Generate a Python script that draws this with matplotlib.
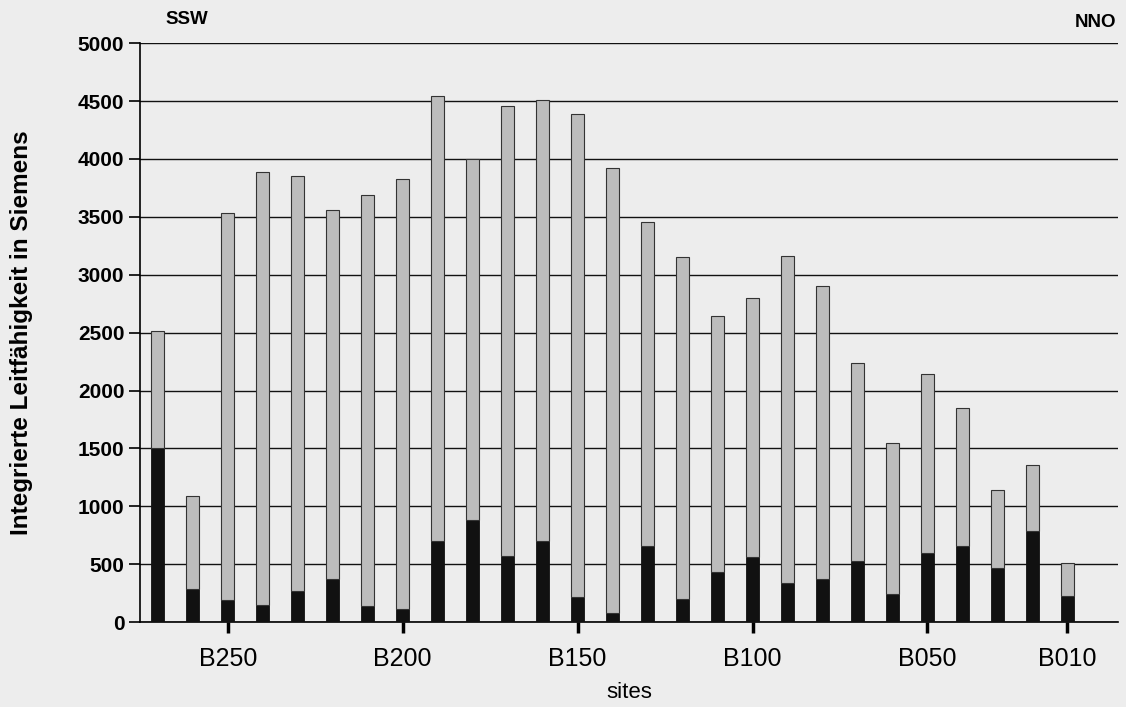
import numpy as np
import matplotlib
matplotlib.use("Agg")
import matplotlib.pyplot as plt

plt.rcParams['font.family'] = ['Liberation Sans', 'DejaVu Sans']

# values (Siemens), SSW -> NNO
total = [2510, 1090, 3530, 3890, 3850, 3560, 3690, 3830, 4540, 4000, 4460, 4510,
         4385, 3920, 3455, 3155, 2645, 2800, 3165, 2905, 2235, 1545, 2145, 1845,
         1140, 1360, 510]
black_part = [1500, 290, 190, 150, 270, 370, 140, 115, 705, 880, 570, 705,
              215, 80, 655, 200, 430, 565, 335, 370, 530, 245, 595, 655,
              465, 790, 230]
site_idx = [2, 7, 12, 17, 22, 26]
site_labels = ['B250', 'B200', 'B150', 'B100', 'B050', 'B010']

x = np.arange(len(total))
gray_part = np.array(total) - np.array(black_part)

bg = '#ededed'
fig = plt.figure(figsize=(11.26, 7.07), dpi=100, facecolor=bg)
ax = fig.add_axes([0.124, 0.12, 0.869, 0.819])
ax.set_facecolor(bg)

ax.bar(x, black_part, width=0.37, color='#111111', edgecolor='#111111',
       linewidth=0.6, zorder=3)
ax.bar(x, gray_part, width=0.37, bottom=black_part, color='#bcbcbc',
       edgecolor='#333333', linewidth=0.8, zorder=3)

ax.set_xlim(-0.52, 27.45)
ax.set_ylim(0, 5000)
ax.set_yticks(np.arange(0, 5001, 500))
ax.yaxis.grid(True, color='#111111', linewidth=1.0)
ax.set_axisbelow(True)

for s in ['top', 'right']:
    ax.spines[s].set_visible(False)
ax.spines['left'].set_linewidth(1.2)
ax.spines['bottom'].set_linewidth(1.2)

ax.set_xticks(site_idx)
ax.set_xticklabels(site_labels, fontsize=18)
ax.tick_params(axis='x', length=8, width=2.5, pad=10)
ax.tick_params(axis='y', length=8, width=1.2, labelsize=15, pad=3)
for lab in ax.get_yticklabels():
    lab.set_fontweight('bold')

ax.set_xlabel('sites', fontsize=16, labelpad=8)
ax.set_ylabel('Integrierte Leitfähigkeit in Siemens', fontsize=17.5,
              fontweight='bold', labelpad=32)

fig.text(0.147, 0.972, 'SSW', fontsize=13.5, fontweight='bold', va='center')
fig.text(0.991, 0.968, 'NNO', fontsize=13.5, fontweight='bold', va='center',
         ha='right')

fig.savefig('out.png', dpi=100, facecolor=bg)
